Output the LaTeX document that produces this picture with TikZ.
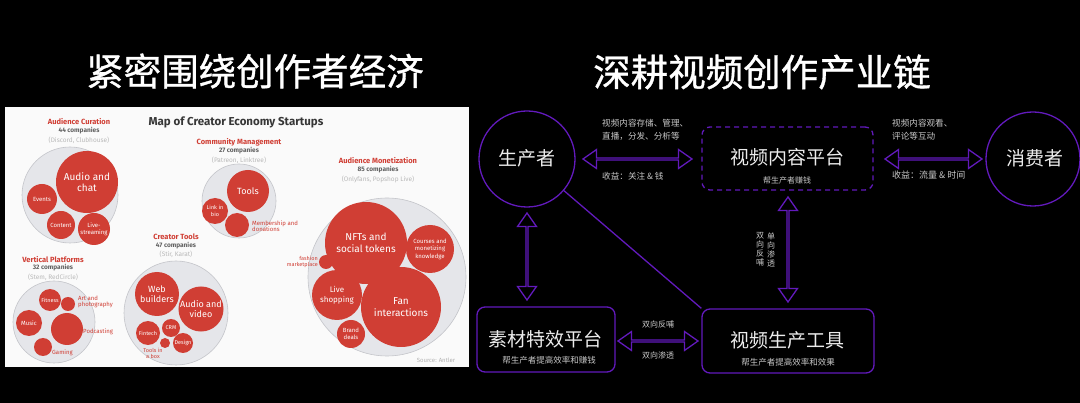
\documentclass[tikz,border=0pt]{standalone}
\usepackage{fontspec}
\setmainfont{Fira Sans}
\newfontfamily\cjk{Noto Sans CJK SC}
\newfontfamily\cjkt[FakeBold=0.9]{Noto Sans CJK SC}
\usetikzlibrary{shapes.arrows}
\definecolor{pur}{RGB}{98,26,188}
\definecolor{rd}{RGB}{208,62,52}
\definecolor{gc}{RGB}{229,230,234}
\definecolor{gline}{RGB}{196,197,202}
\definecolor{panel}{RGB}{250,250,250}
\definecolor{lt}{RGB}{236,236,236}
\definecolor{smt}{RGB}{200,200,200}
\definecolor{dk}{RGB}{55,55,55}
\newcommand\myfs[2]{\fontsize{#1}{#2}\selectfont}
\tikzset{
  gcirc/.style={circle, draw=gline, fill=gc, line width=0.6pt, inner sep=0pt},
  rcirc/.style={circle, fill=rd, inner sep=0pt, text=white, align=center},
  cat/.style={text=rd, font=\bfseries\myfs{7.5}{8}, inner sep=0pt},
  cnt/.style={text=gray!75!black, font=\bfseries\myfs{6.5}{7}, inner sep=0pt},
  ex/.style={text=gray!55, font=\myfs{6.5}{7}, inner sep=0pt},
  rl/.style={text=rd, font=\myfs{6}{6.5}, align=left, inner sep=0pt},
  ttl/.style={text=white, font=\cjkt\myfs{37.5}{40}, inner sep=0pt},
  ring/.style={circle, draw=pur, line width=1.3pt, inner sep=0pt, minimum size=96pt},
  solidbox/.style={draw=pur, line width=1.3pt, rounded corners=8pt, inner sep=0pt},
  dashbox/.style={draw=pur, line width=1.3pt, dash pattern=on 5pt off 4pt, rounded corners=8pt, inner sep=0pt},
  big/.style={text=lt, font=\cjk\myfs{19}{22}, inner sep=0pt},
  sub/.style={text=smt, font=\cjk\myfs{8.5}{10}, inner sep=0pt},
  lab/.style={text=smt, font=\cjk\myfs{8.6}{13}, inner sep=0pt, align=left},
  darrow/.style={double arrow, draw=pur, fill=black, line width=1.3pt, inner sep=0pt,
     minimum width=19pt, double arrow head extend=6pt, double arrow tip angle=70},
}
\begin{document}
\begin{tikzpicture}[x=1pt,y=-1pt]
\fill[black] (0,0) rectangle (1080,403);
\useasboundingbox (0,0) rectangle (1080,403);

% ---------- titles ----------
\node[ttl] (t1) at (255,71) {紧密围绕创作者经济};
\node[ttl] (t2) at (762,72) {深耕视频创作产业链};

% ---------- left panel ----------
\fill[panel] (5,107) rectangle (469,367);
\node[text=dk, font=\bfseries\myfs{11.5}{12}, inner sep=0pt] (maptitle) at (236,122) {Map of Creator Economy Startups};

% Audience Curation
\node[cat] (acl) at (79,122) {Audience Curation};
\node[cnt] (acc) at (79,131) {44 companies};
\node[ex] (ace) at (79,140) {(Discord, Clubhouse)};
\node[gcirc, minimum size=96pt] (ac) at (70,195) {};
\node[rcirc, minimum size=62pt, font=\myfs{10}{11.5}] (ac1) at (87,182) {Audio and\\chat};
\node[rcirc, minimum size=30pt, font=\myfs{6}{7}] (ac2) at (42,199) {Events};
\node[rcirc, minimum size=28pt, font=\myfs{6}{7}] (ac3) at (61,225) {Content};
\node[rcirc, minimum size=32pt, font=\myfs{6}{7}] (ac4) at (94,229) {Live-\\streaming};

% Community Management
\node[cat] (cml) at (239,142) {Community Management};
\node[cnt] (cmc) at (239,151) {27 companies};
\node[ex] (cme) at (239,160) {(Patreon, Linktree)};
\node[gcirc, minimum size=74pt] (cm) at (239,201) {};
\node[rcirc, minimum size=42pt, font=\myfs{9}{10}] (cm1) at (248,191) {Tools};
\node[rcirc, minimum size=26pt, font=\myfs{5.5}{6.5}] (cm2) at (215,211) {Link in\\bio};
\node[rcirc, minimum size=24pt] (cm3) at (237,225) {};
\node[rl, anchor=west] (cm3l) at (252,226) {Membership and\\donations};

% Audience Monetization
\node[cat] (aml) at (378,161) {Audience Monetization};
\node[cnt] (amc) at (378,170) {85 companies};
\node[ex] (ame) at (378,179) {(Onlyfans, Popshop Live)};
\node[gcirc, minimum size=158pt] (am) at (387,277) {};
\node[rcirc, minimum size=82pt, font=\myfs{10}{11.5}] (am1) at (366,243) {NFTs and\\social tokens};
\node[rcirc, minimum size=48pt, font=\myfs{6}{7.5}] (am2) at (430,249) {Courses and\\monetizing\\knowledge};
\node[rcirc, minimum size=14pt] (am3) at (326,262) {};
\node[rl, anchor=east, align=right, font=\myfs{5.5}{6.5}] (am3l) at (318,262) {fashion\\marketplace};
\node[rcirc, minimum size=50pt, font=\myfs{8}{9.5}] (am4) at (337,295) {Live\\shopping};
\node[rcirc, minimum size=80pt, font=\myfs{10}{11.5}] (am5) at (401,307) {Fan\\interactions};
\node[rcirc, minimum size=28pt, font=\myfs{6}{7}] (am6) at (351,334) {Brand\\deals};
\node[text=gray!60, font=\myfs{6}{7}, inner sep=0pt] (src) at (436,360) {Source: Antler};

% Vertical Platforms
\node[cat] (vpl) at (53,260) {Vertical Platforms};
\node[cnt] (vpc) at (53,268) {32 companies};
\node[ex] (vpe) at (53,277) {(Stem, RedCircle)};
\node[gcirc, minimum size=82pt] (vp) at (54,322) {};
\node[rcirc, minimum size=22pt, font=\myfs{5.5}{6.5}] (vp1) at (50,300) {Fitness};
\node[rcirc, minimum size=14pt] (vp2) at (68,304) {};
\node[rl, anchor=west] (vp2l) at (78,302) {Art and\\photography};
\node[rcirc, minimum size=26pt, font=\myfs{6}{7}] (vp3) at (29,323) {Music};
\node[rcirc, minimum size=32pt] (vp4) at (67,329) {};
\node[rl, anchor=west] (vp4l) at (83,332) {Podcasting};
\node[rcirc, minimum size=18pt] (vp5) at (43,347) {};
\node[rl, anchor=west] (vp5l) at (52,353) {Gaming};

% Creator Tools
\node[cat] (ctl) at (176,237) {Creator Tools};
\node[cnt] (ctc) at (176,246) {47 companies};
\node[ex] (cte) at (176,254) {(Stir, Karat)};
\node[gcirc, minimum size=104pt] (ct) at (176,313) {};
\node[rcirc, minimum size=44pt, font=\myfs{9}{10.5}] (ct1) at (157,294) {Web\\builders};
\node[rcirc, minimum size=44pt, font=\myfs{9}{10.5}] (ct2) at (201,309) {Audio and\\video};
\node[rcirc, minimum size=24pt, font=\myfs{5.5}{6.5}] (ct3) at (148,333) {Fintech};
\node[rcirc, minimum size=18pt, font=\myfs{5.5}{6.5}] (ct4) at (171,328) {CRM};
\node[rcirc, minimum size=10pt] (ct5) at (165,343) {};
\node[rcirc, minimum size=20pt, font=\myfs{5.5}{6.5}] (ct6) at (183,343) {Design};
\node[rl, align=center, font=\myfs{5.5}{6}] (ct7) at (153,353) {Tools in\\a box};

% ---------- right diagram ----------
\node[ring] (prod) at (527,159) {};
\node[big] (prodt) at (527,158) {生产者};
\node[ring, minimum size=94pt] (cons) at (1033,159) {};
\node[big] (const) at (1035,158) {消费者};

\node[dashbox, minimum width=171pt, minimum height=63pt] (plat) at (787.5,158.5) {};
\node[big] (platt) at (787,157) {视频内容平台};
\node[sub, font=\cjk\myfs{8}{9}] (plats) at (787,180) {帮生产者赚钱};

\node[solidbox, minimum width=138pt, minimum height=65pt] (mat) at (546,339.5) {};
\node[big] (matt) at (545,339) {素材特效平台};
\node[sub] (mats) at (549,360) {帮生产者提高效率和赚钱};

\node[solidbox, minimum width=172pt, minimum height=64pt] (tool) at (788,341) {};
\node[big] (toolt) at (787,340) {视频生产工具};
\node[sub] (tools) at (788,362) {帮生产者提高效率和效果};

% double arrows
\node[darrow, minimum height=109pt] (a1) at (637.5,159) {};
\node[darrow, minimum height=97pt] (a2) at (933.5,159) {};
\node[darrow, minimum height=87pt, shape border rotate=90] (a3) at (527,256.5) {};
\node[darrow, minimum height=105pt, shape border rotate=90] (a4) at (788,249.5) {};
\node[darrow, minimum height=80pt] (a5) at (658,341) {};

% diagonal connector
\draw[pur, line width=1.3pt] (prod) -- (tool.north west);

% labels
\node[lab, anchor=north west] (l1) at (602,119) {视频内容存储、管理、\\直播，分发、分析等};
\node[lab, anchor=west] (l2) at (602,176) {收益：关注 \& 钱};
\node[lab, anchor=north west] (l3) at (892,119) {视频内容观看、\\评论等互动};
\node[lab, anchor=west, font=\cjk\myfs{9}{13}] (l4) at (892,175) {收益：流量 \& 时间};
\node[lab, align=center, font=\cjk\myfs{8}{9}] (l5) at (760,249.5) {双\\向\\反\\哺};
\node[lab, align=center, font=\cjk\myfs{8}{9}] (l6) at (771,249.5) {单\\向\\渗\\透};
\node[lab, font=\cjk\myfs{8}{9}] (l7) at (658,324) {双向反哺};
\node[lab, font=\cjk\myfs{8}{9}] (l8) at (658,355) {双向渗透};
\end{tikzpicture}
\end{document}
